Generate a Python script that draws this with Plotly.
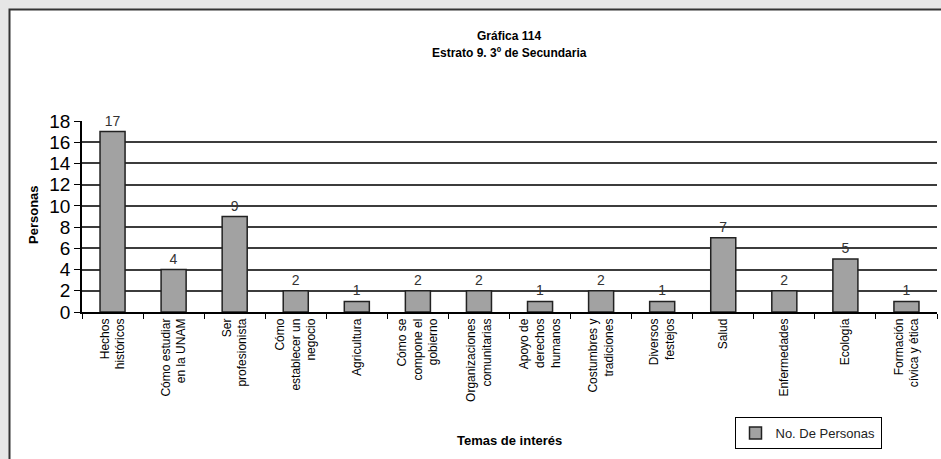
import plotly.graph_objects as go

# Data
temas = [
    "Hechos<br>históricos",
    "Cómo estudiar<br>en la UNAM",
    "Ser<br>profesionista",
    "Cómo<br>establecer un<br>negocio",
    "Agricultura",
    "Cómo se<br>compone el<br>gobierno",
    "Organizaciones<br>comunitarias",
    "Apoyo de<br>derechos<br>humanos",
    "Costumbres y<br>tradiciones",
    "Diversos<br>festejos",
    "Salud",
    "Enfermedades",
    "Ecología",
    "Formación<br>cívica y ética",
]
personas = [17, 4, 9, 2, 1, 2, 2, 1, 2, 1, 7, 2, 5, 1]
y_ticks = list(range(0, 19, 2))

W, H = 941, 459
ML, MR, MT, MB = 82, 4, 121, 147
PW, PH = W - ML - MR, H - MT - MB


def px_x(p):
    return (p - ML) / PW


def px_y(p):
    return (H - MB - p) / PH


FONT = "Liberation Sans, Arial, sans-serif"
NARROW = "Liberation Sans Narrow, Arial Narrow, Liberation Sans, Arial, sans-serif"


def label(text, x, y, size=13, family=FONT, angle=0):
    return dict(text=text, xref="paper", yref="paper",
                x=px_x(x), y=px_y(y), xanchor="center", yanchor="middle",
                showarrow=False, textangle=angle,
                font=dict(family=family, size=size, color="#000000"))


fig = go.Figure()
fig.add_trace(go.Bar(
    x=temas,
    y=personas,
    name="No. De Personas",
    width=0.41,
    marker=dict(color="#a2a2a2", line=dict(color="#222222", width=1.5)),
    text=personas,
    textposition="outside",
    cliponaxis=False,
    textfont=dict(family=FONT, size=14, color="#333333"),
))

fig.update_layout(
    width=W,
    height=H,
    margin=dict(l=ML, r=MR, t=MT, b=MB, autoexpand=False),
    paper_bgcolor="#e6e6e6",
    plot_bgcolor="#c0c0c0",
    font=dict(family=FONT, color="#000000"),
    showlegend=True,
    legend=dict(
        x=px_x(808), y=px_y(417), xanchor="center", yanchor="top",
        bgcolor="#ffffff", bordercolor="#000000", borderwidth=1,
        font=dict(family=FONT, size=13, color="#222222"),
        itemwidth=30,
    ),
    xaxis=dict(
        tickangle=-90, automargin=False,
        tickfont=dict(family=NARROW, size=12),
        ticks="outside", tickson="boundaries", ticklen=5, tickcolor="#000000",
        showline=True, linecolor="#000000", linewidth=1.5,
        showgrid=False,
    ),
    yaxis=dict(
        range=[0, 18], tickvals=y_ticks, automargin=False,
        tickfont=dict(family=FONT, size=19),
        ticks="outside", ticklen=6, tickcolor="#000000",
        showline=True, linecolor="#000000", linewidth=1.5,
        showgrid=True, gridcolor="#3c3c3c", gridwidth=1.5,
        zeroline=False,
    ),
    bargap=0.59,
    shapes=[dict(
        type="rect", xref="paper", yref="paper", layer="below",
        x0=px_x(9.5), x1=px_x(W + 20), y0=px_y(H + 20), y1=px_y(9.5),
        fillcolor="#ffffff", line=dict(color="#333333", width=2),
    )],
    annotations=[
        label("<b>Gráfica 114</b>", 509, 36, size=12, family=NARROW),
        label("<b>Estrato 9. 3º de Secundaria</b>", 509, 53, size=12, family=NARROW),
        label("<b>Personas</b>", 33, 215, angle=-90),
        label("<b>Temas de interés</b>", 509, 440),
    ],
)

fig.write_html(
    "out.html",
    config={"displayModeBar": False},
    post_script="document.body.style.margin='0';document.body.style.overflow='hidden';",
)
